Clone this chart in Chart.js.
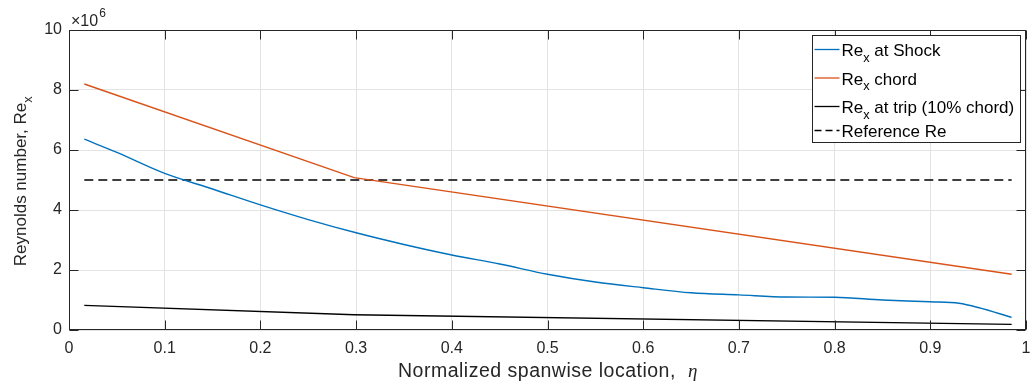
<!DOCTYPE html>
<html>
<head>
<meta charset="utf-8">
<script src="https://cdn.jsdelivr.net/npm/chart.js@4.4.1/dist/chart.umd.min.js"></script>
<style>
  html, body { margin: 0; padding: 0; background: #fff; }
  #wrap { width: 1032px; height: 387px; }
</style>
</head>
<body>
<div id="wrap"><canvas id="reChart"></canvas></div>
<script>
// values in units of 1e6
const etaShock = [0.016, 0.05, 0.1, 0.15, 0.2, 0.25, 0.3, 0.35, 0.4, 0.45, 0.5, 0.55, 0.6, 0.65, 0.7, 0.75, 0.8, 0.85, 0.9, 0.93, 0.95, 0.985];
const reShock  = [6.36, 5.92, 5.22, 4.70, 4.17, 3.68, 3.24, 2.85, 2.50, 2.20, 1.86, 1.60, 1.41, 1.24, 1.17, 1.10, 1.09, 1.00, 0.94, 0.89, 0.75, 0.42];
const etaChord = [0.016, 0.298, 0.985];
const reChord  = [8.20, 5.08, 1.86];
const etaTrip  = [0.016, 0.298, 0.985];
const reTrip   = [0.82, 0.51, 0.186];
const etaRef   = [0.016, 0.985];
const reRef    = [5, 5];
const xTicks = [0, 0.1, 0.2, 0.3, 0.4, 0.5, 0.6, 0.7, 0.8, 0.9, 1];
const yTicks = [0, 2, 4, 6, 8, 10];

const FONT = "'Liberation Sans', Arial, Helvetica, sans-serif";
const AXIS = '#262626';

function pts(xs, ys) { return xs.map((x, i) => ({ x: x, y: ys[i] })); }

// text with "_x" subscripts, returns end x
function richText(ctx, str, x, y, size) {
    const parts = str.split(/(_\w)/);
    parts.forEach(p => {
        if (!p) return;
        if (p[0] === '_') {
            ctx.font = (size * 0.75) + 'px ' + FONT;
            ctx.fillText(p.slice(1), x, y + size * 0.33);
            x += ctx.measureText(p.slice(1)).width;
        } else {
            ctx.font = size + 'px ' + FONT;
            ctx.fillText(p, x, y);
            x += ctx.measureText(p).width;
        }
    });
    return x;
}

const decorPlugin = {
    id: 'decor',
    afterDraw(chart) {
        const ctx = chart.ctx;
        const a = chart.chartArea;
        const xs = chart.scales.x, ys = chart.scales.y;
        ctx.save();
        // box + inward ticks
        ctx.strokeStyle = AXIS;
        ctx.lineWidth = 1;
        const L = Math.round(a.left) + 0.5, R = Math.round(a.right) - 0.5;
        const T = Math.round(a.top) + 0.5, B = Math.round(a.bottom) - 0.5;
        ctx.strokeRect(L, T, R - L, B - T);
        const tl = 9;
        ctx.beginPath();
        xTicks.forEach(v => {
            const px = Math.round(xs.getPixelForValue(v)) + 0.5;
            ctx.moveTo(px, B); ctx.lineTo(px, B - tl);
            ctx.moveTo(px, T); ctx.lineTo(px, T + tl);
        });
        yTicks.forEach(v => {
            const py = Math.round(ys.getPixelForValue(v)) + 0.5;
            ctx.moveTo(L, py); ctx.lineTo(L + tl, py);
            ctx.moveTo(R, py); ctx.lineTo(R - tl, py);
        });
        ctx.stroke();

        ctx.fillStyle = AXIS;
        ctx.textBaseline = 'alphabetic';
        ctx.textAlign = 'left';
        // exponent label
        ctx.font = '16px ' + FONT;
        ctx.fillText('\u00d710', 71, 26);
        const w = ctx.measureText('\u00d710').width;
        ctx.font = '12px ' + FONT;
        ctx.fillText('6', 71 + w + 1, 17);

        // x title
        const t1 = 'Normalized spanwise location,';
        ctx.font = '19.5px ' + FONT;
        ctx.letterSpacing = '0.5px';
        ctx.fillText(t1, 398, 377);
        ctx.letterSpacing = '0px';
        ctx.font = 'italic 19px "Liberation Serif", serif';
        ctx.fillText('\u03b7', 688, 377);

        // y title
        ctx.save();
        ctx.translate(26, (a.top + a.bottom) / 2);
        ctx.rotate(-Math.PI / 2);
        ctx.font = '17px ' + FONT;
        const wy = ctx.measureText('Reynolds number, Re').width + 9;
        richText(ctx, 'Reynolds number, Re_x', -wy / 2, 0, 17);
        ctx.restore();

        // legend
        const lx = 812.5, ly = 35.5, lw = 208, lh = 107;
        ctx.fillStyle = '#fff';
        ctx.fillRect(lx, ly, lw, lh);
        ctx.strokeStyle = AXIS;
        ctx.strokeRect(lx, ly, lw, lh);
        const rows = [56, 84.5, 113, 137];
        chart.data.datasets.forEach((ds, i) => {
            const y = rows[i];
            ctx.strokeStyle = ds.borderColor;
            ctx.lineWidth = 1.3;
            ctx.setLineDash(ds.borderDash ? [7, 4] : []);
            ctx.beginPath();
            ctx.moveTo(lx + 2, y - 6.5); ctx.lineTo(lx + 27, y - 6.5);
            ctx.stroke();
            ctx.setLineDash([]);
            ctx.fillStyle = '#000';
            richText(ctx, ds.label, lx + 29, y, 17);
        });
        ctx.restore();
    }
};

new Chart(document.getElementById('reChart').getContext('2d'), {
    type: 'line',
    data: {
        datasets: [
            { label: 'Re_x at Shock', data: pts(etaShock, reShock), borderColor: '#0072BD', borderWidth: 1.4, cubicInterpolationMode: 'monotone' },
            { label: 'Re_x chord', data: pts(etaChord, reChord), borderColor: '#D95319', borderWidth: 1.4 },
            { label: 'Re_x at trip (10% chord)', data: pts(etaTrip, reTrip), borderColor: '#000000', borderWidth: 1.4 },
            { label: 'Reference Re', data: pts(etaRef, reRef), borderColor: '#000000', borderWidth: 1.6, borderDash: [9, 5] }
        ]
    },
    options: {
        responsive: true,
        maintainAspectRatio: false,
        animation: false,
        layout: { padding: { top: 30, right: 6, left: 0, bottom: 0 } },
        elements: { point: { radius: 0 }, line: { tension: 0, fill: false } },
        plugins: { legend: { display: false }, tooltip: { enabled: false } },
        scales: {
            x: {
                type: 'linear', min: 0, max: 1,
                afterBuildTicks: s => { s.ticks = xTicks.map(v => ({ value: v })); },
                afterFit: s => { s.height = 57; s.paddingLeft = 0; s.paddingRight = 0; },
                ticks: { color: AXIS, font: { family: FONT, size: 16 }, padding: 9, maxRotation: 0,
                         callback: v => String(+v.toFixed(1)) },
                grid: { color: '#e3e3e3', drawTicks: false },
                border: { display: false }
            },
            y: {
                min: 0, max: 10,
                afterBuildTicks: s => { s.ticks = yTicks.map(v => ({ value: v })); },
                afterFit: s => { s.width = 69; s.paddingTop = 0; s.paddingBottom = 0; },
                ticks: { color: AXIS, font: { family: FONT, size: 16 }, padding: 7 },
                grid: { color: '#e3e3e3', drawTicks: false },
                border: { display: false }
            }
        }
    },
    plugins: [decorPlugin]
});
</script>
</body>
</html>
